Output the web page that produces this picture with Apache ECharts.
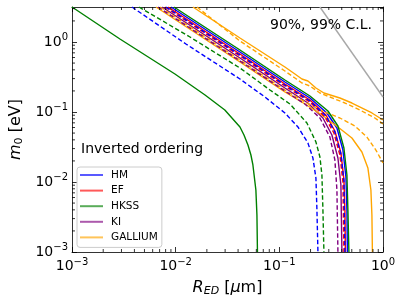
<!DOCTYPE html>
<html>
<head>
<meta charset="utf-8">
<script src="https://cdn.jsdelivr.net/npm/echarts@6/dist/echarts.min.js"></script>
<style>html,body{margin:0;padding:0;background:#fff}#c{width:407px;height:305px}</style>
</head>
<body>
<div id="c"></div>
<script>
// ---- data (R_ED in micrometres, m0 in eV) ----
const X_MIN = 0.001, X_MAX = 1;
const Y_MIN = 0.001, Y_MAX = 3.1623;
const legendNames = ['HM', 'EF', 'HKSS', 'KI', 'GALLIUM'];

const hkssLeftSolid = [[0.001,3.162],[0.0029,1.104],[0.00984,0.349],[0.0192,0.175],[0.0298,0.107],[0.0349,0.0821],[0.0417,0.0611],[0.0456,0.0469],[0.0498,0.0338],[0.0532,0.0243],[0.0556,0.0175],[0.0594,0.00769],[0.0608,0.00338],[0.0615,0.001]];
const hmLeftDashed = [[0.00379,3.162],[0.01257,0.936],[0.0417,0.296],[0.0726,0.1638],[0.1132,0.0968],[0.1512,0.0611],[0.1887,0.0361],[0.2109,0.022],[0.2254,0.0114],[0.2305,0.00398],[0.2357,0.001]];
const hkssLeftDashed = [[0.00443,3.162],[0.01374,1.179],[0.0417,0.4252],[0.0812,0.2062],[0.1265,0.1301],[0.1845,0.0697],[0.2254,0.0373],[0.2463,0.0228],[0.2575,0.0126],[0.2633,0.00398],[0.2692,0.001]];

const hkssSolid = [[0.00963,3.162],[0.0417,0.769],[0.1132,0.2865],[0.1973,0.1693],[0.2943,0.1033],[0.3674,0.0631],[0.4198,0.0306],[0.4487,0.0126],[0.4587,0.00398],[0.4691,0.001]];
const hmSolid = [[0.00901,3.162],[0.0417,0.7197],[0.1132,0.2683],[0.1973,0.1585],[0.2877,0.0968],[0.3594,0.0591],[0.4105,0.0286],[0.4388,0.0118],[0.4487,0.00398],[0.4537,0.001]];
const efSolid = [[0.00843,3.162],[0.0417,0.674],[0.1132,0.2512],[0.1973,0.1484],[0.2815,0.0906],[0.3436,0.0535],[0.3926,0.026],[0.4198,0.0107],[0.4292,0.00398],[0.4339,0.001]];
const hmDashed = [[0.00806,3.162],[0.0417,0.652],[0.1132,0.243],[0.1973,0.1436],[0.2815,0.0877],[0.3436,0.0518],[0.3926,0.0251],[0.4198,0.0103],[0.4292,0.001]];
const efDashed = [[0.00788,3.162],[0.0417,0.631],[0.1132,0.2351],[0.1973,0.1389],[0.2753,0.0848],[0.3361,0.0501],[0.3841,0.0243],[0.4105,0.01],[0.4198,0.001]];
const kiSolid = [[0.00738,3.162],[0.0417,0.5905],[0.1132,0.2203],[0.1887,0.1344],[0.2633,0.0821],[0.3214,0.0469],[0.3674,0.022],[0.3926,0.00906],[0.4015,0.001]];
const kiDashed = [[0.00675,3.162],[0.0417,0.5354],[0.1132,0.1995],[0.1766,0.1301],[0.2463,0.0821],[0.3075,0.0439],[0.3436,0.0206],[0.3594,0.00769],[0.3674,0.001]];

const gaLowSolid = [[0.00646,3.162],[0.0417,0.5179],[0.1132,0.1931],[0.1766,0.1301],[0.2575,0.0906],[0.3674,0.0611],[0.5013,0.0425],[0.6259,0.0268],[0.7153,0.0158],[0.7643,0.00769],[0.7817,0.00338],[0.7903,0.001]];
const gaLowDashed = [[0.00706,3.162],[0.0417,0.5534],[0.1132,0.2062],[0.1766,0.1389],[0.2463,0.1068],[0.3841,0.0821],[0.5358,0.0631],[0.6995,0.0439],[0.8541,0.0286],[1.0,0.0187]];
const gaHighSolid = [[0.01468,3.162],[0.0417,1.141],[0.1132,0.4394],[0.1414,0.349],[0.1652,0.296],[0.1887,0.2773],[0.2254,0.2203],[0.2692,0.1868],[0.3841,0.1585],[0.5013,0.1344],[0.7817,0.0968],[1.0,0.0769]];
const gaHighDashed = [[0.01605,3.162],[0.0417,1.033],[0.1132,0.3852],[0.1414,0.3058],[0.1652,0.2597],[0.1973,0.2351],[0.2463,0.1868],[0.3075,0.1638],[0.4292,0.1344],[0.5987,0.1068],[0.8353,0.0821],[1.0,0.0674]];

const greyLine = [[0.2463,3.162],[1.0,0.1638]];

// ---- styling ----
const C = {HM:'#0000ff', EF:'#ff0000', HKSS:'#008000', KI:'#800080', GALLIUM:'#ffa500'};
const FONT = 'DejaVu Sans';
const LW = 1.4;
const DASH = [4.5, 2.5];

function ln(name, data, dashed, color, z) {
  return {
    type: 'line', name: name, data: data, showSymbol: false, symbol: 'none',
    xAxisIndex: 0, yAxisIndex: 0, z: z || 2, silent: true, animation: false,
    lineStyle: {color: color || C[name], width: LW, type: dashed ? DASH : 'solid'},
    itemStyle: {color: color || C[name]}
  };
}

const minorX = [];
for (let d = -3; d < 0; d++) for (let k = 2; k <= 9; k++) minorX.push(k * Math.pow(10, d));
const minorY = [];
for (let d = -3; d <= 0; d++) for (let k = 2; k <= 9; k++) { const v = k * Math.pow(10, d); if (v < Y_MAX) minorY.push(v); }

function tickLine(x1, y1, x2, y2) {
  return {type: 'line', shape: {x1, y1, x2, y2}, style: {stroke: '#000', lineWidth: 0.8}};
}

function supLabel(v) {
  const e = Math.log10(v);
  const r = Math.round(e);
  if (Math.abs(e - r) > 1e-6) return '';
  return '{b|10}{s|' + (r < 0 ? '\u2212' + (-r) : String(r)) + '}';
}
const labelRich = {
  b: {fontFamily: FONT, fontSize: 14, color: '#000'},
  s: {fontFamily: FONT, fontSize: 10, color: '#000', padding: [0, 0, 9, 0]}
};

const chart = echarts.init(document.getElementById('c'), null, {renderer: 'canvas'});

const baseAxis = {
  type: 'log', logBase: 10,
  axisLine: {show: true, lineStyle: {color: '#000', width: 0.8}},
  splitLine: {show: false},
  axisTick: {show: true, inside: true, length: 5, lineStyle: {color: '#000', width: 0.8}},
};

const option = {
  backgroundColor: '#fff',
  animation: false,
  grid: {left: 72, right: 24, top: 7, bottom: 53, containLabel: false, outerBoundsMode: 'none'},
  title: [
    {text: '90%, 99% C.L.', left: 270, top: 18, textStyle: {fontFamily: FONT, fontSize: 14, fontWeight: 'normal', color: '#000'}, padding: 0},
    {text: 'Inverted ordering', left: 81, top: 142, textStyle: {fontFamily: FONT, fontSize: 14, fontWeight: 'normal', color: '#000'}, padding: 0}
  ],
  legend: {
    orient: 'vertical', left: 77, top: 167,
    data: legendNames.map(n => ({name: n, icon: 'rect', itemStyle: {color: C[n], opacity: 0.65}})),
    itemWidth: 23, itemHeight: 2, itemGap: 3.6,
    padding: [2, 4, 4, 3],
    borderColor: '#cccccc', borderWidth: 1, borderRadius: 3,
    backgroundColor: 'rgba(255,255,255,0.8)',
    textStyle: {fontFamily: FONT, fontSize: 10.5, color: '#000', padding: [0, 0, 0, 3], lineHeight: 12},
    selectedMode: false
  },
  xAxis: [
    Object.assign({}, baseAxis, {
      min: X_MIN, max: X_MAX, position: 'bottom',
      axisLabel: {show: true, margin: 5, formatter: supLabel, rich: labelRich},
      name: '{i|R}{s|ED} [{i|\u03bc}m]', nameLocation: 'middle', nameGap: 27,
      nameTextStyle: {fontFamily: FONT, fontSize: 16, color: '#000',
        rich: {i: {fontFamily: FONT, fontSize: 16, fontStyle: 'italic', color: '#000'},
               s: {fontFamily: FONT, fontSize: 11, fontStyle: 'italic', color: '#000', padding: [7, 0, 0, 0]}}}
    }),
    Object.assign({}, baseAxis, {min: X_MIN, max: X_MAX, position: 'top', axisLabel: {show: false}})
  ],
  yAxis: [
    Object.assign({}, baseAxis, {
      min: Y_MIN, max: Y_MAX, position: 'left',
      axisLabel: {show: true, margin: 4, formatter: supLabel, rich: labelRich, showMaxLabel: false},
      name: '{i|m}{s|0} [eV]', nameLocation: 'middle', nameGap: 47, nameRotate: 90,
      nameTextStyle: {fontFamily: FONT, fontSize: 16, color: '#000',
        rich: {i: {fontFamily: FONT, fontSize: 16, fontStyle: 'italic', color: '#000'},
               s: {fontFamily: FONT, fontSize: 11, color: '#000', padding: [7, 0, 0, 0]}}}
    }),
    Object.assign({}, baseAxis, {min: Y_MIN, max: Y_MAX, position: 'right', axisLabel: {show: false}})
  ],
  series: [
    ln('HM', hmSolid, false),
    ln('EF', efSolid, false),
    ln('HKSS', hkssLeftSolid, false),
    ln('KI', kiSolid, false),
    ln('GALLIUM', gaLowSolid, false),
    ln('HM', hmLeftDashed, true),
    ln('HKSS', hkssLeftDashed, true),
    ln('GALLIUM', gaHighSolid, false),
    ln('GALLIUM', gaHighDashed, true),
    ln('GALLIUM', gaLowDashed, true),
    ln('KI', kiDashed, true),
    ln('EF', efDashed, true),
    ln('HM', hmDashed, true),
    ln('HKSS', hkssSolid, false),
    ln('ref', greyLine, false, '#a8a8a8'),
    {
      type: 'custom', name: 'xminor', xAxisIndex: 0, yAxisIndex: 0, silent: true, clip: false, z: 5,
      data: minorX.map(v => [v, Y_MIN]),
      renderItem: function (params, api) {
        const v = api.value(0);
        const b = api.coord([v, Y_MIN]);
        const t = api.coord([v, Y_MAX]);
        return {type: 'group', children: [tickLine(b[0], b[1], b[0], b[1] - 3), tickLine(t[0], t[1], t[0], t[1] + 3)]};
      }
    },
    {
      type: 'custom', name: 'yminor', xAxisIndex: 0, yAxisIndex: 0, silent: true, clip: false, z: 5,
      data: minorY.map(v => [X_MIN, v]),
      renderItem: function (params, api) {
        const v = api.value(1);
        const l = api.coord([X_MIN, v]);
        const r = api.coord([X_MAX, v]);
        return {type: 'group', children: [tickLine(l[0], l[1], l[0] + 3, l[1]), tickLine(r[0], r[1], r[0] - 3, r[1])]};
      }
    }
  ]
};
chart.setOption(option);
</script>
</body>
</html>
